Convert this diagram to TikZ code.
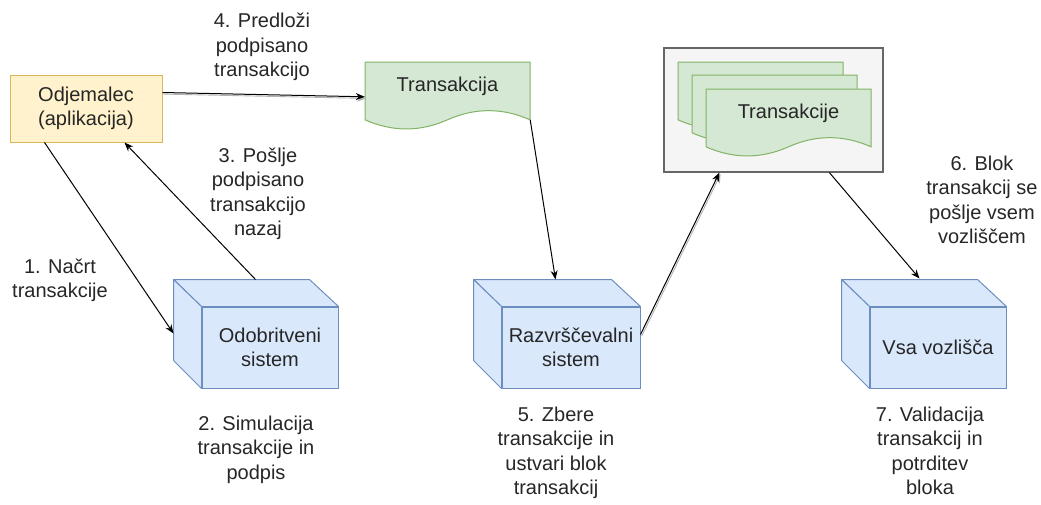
\documentclass[tikz,border=0pt]{standalone}
\usepackage{fontspec}
\setmainfont{Liberation Sans}
\usetikzlibrary{arrows.meta,calc}
\definecolor{ylwF}{HTML}{FFF2CC}\definecolor{ylwD}{HTML}{D6B656}
\definecolor{grnF}{HTML}{D5E8D4}\definecolor{grnD}{HTML}{82B366}
\definecolor{bluF}{HTML}{DAE8FC}\definecolor{bluD}{HTML}{6C8EBF}
\definecolor{gryF}{HTML}{F5F5F5}\definecolor{gryD}{HTML}{666666}
\tikzset{
  every node/.style={font=\fontsize{20}{24.5}\selectfont, text=black!85},
  lbl/.style={align=center, inner sep=0pt},
  client/.style={draw=ylwD, fill=ylwF, line width=1pt, align=center,
    minimum width=152pt, minimum height=67pt, inner sep=0pt},
  docnode/.style={minimum width=165pt, minimum height=48pt, inner sep=0pt},
  face/.style={draw=bluD, fill=bluF, line width=1pt, align=center, inner sep=0pt,
    minimum height=81pt},
  cubeside/.style={draw=bluD, fill=bluF, line width=1pt, line join=round},
  blockbox/.style={draw=gryD, fill=gryF, line width=1.2pt,
    minimum width=219pt, minimum height=124pt, inner sep=0pt},
  conn/.style={line width=1pt, -{Stealth[length=9pt,width=7pt]}},
  ghost/.style={preaction={draw=black!30, line width=0.9pt,
    transform canvas={shift={(1.2pt,-1.6pt)}}}},
  docshape/.pic={
    \path[draw=grnD, fill=grnF, line width=1pt]
      (0,0) -- (165,0) -- (165,57.8)
      .. controls (137.5,45.6) and (110,45.6) .. (82.5,57.8)
      .. controls (55,70) and (27.5,70) .. (0,57.8) -- cycle;
  }
}
\begin{document}
\begin{tikzpicture}[x=1pt,y=-1pt]
\useasboundingbox (0,0) rectangle (1041,504);

% client
\node[client] (odj) at (86,108.5) {Odjemalec\\(aplikacija)};

% single transaction document
\pic at (365,62) {docshape};
\node[docnode] (tx) at (447.5,86) {Transakcija};

% block container with stacked documents
\node[blockbox] (blk) at (773.5,110) {};
\pic at (678,62) {docshape};
\pic at (692,75) {docshape};
\pic at (706,89) {docshape};
\node[docnode] (txs) at (788.5,113) {Transakcije};

% cubes
\node[face, minimum width=136pt] (ob) at (270,347.5) {Odobritveni\\sistem};
\node[face, minimum width=138pt] (rz) at (571,347.5) {Razvrščevalni\\sistem};
\node[face, minimum width=136pt] (vs) at (938,347.5) {Vsa vozlišča};
\foreach \c/\w in {ob/136, rz/138, vs/136}{
  \path[cubeside] (\c.north west) -- ++(-28,-27) -- ++(\w,0) -- (\c.north east) -- cycle;
  \path[cubeside] (\c.north west) -- ++(-28,-27) -- ++(0,81) -- (\c.south west) -- cycle;
}

% connectors
\draw[conn] ($(odj.south west)+(35,0)$) -- ($(ob.south west)+(-28,-55)$);
\draw[conn] ($(ob.north west)+(54,-27)$) -- ($(odj.south west)+(115,0)$);
\draw[conn, ghost] ($(odj.north east)+(0,18)$) -- ($(tx.north west)+(0,35)$);
\draw[conn] ($(tx.north east)+(0,58)$) -- ($(rz.north west)+(54,-27)$);
\draw[conn, ghost] ($(rz.north east)+(0,28)$) -- ($(blk.south west)+(56,0)$);
\draw[conn] ($(blk.south west)+(166,0)$) -- ($(vs.north west)+(50,-28)$);

% labels
\node[lbl] (l4) at (262,47) {4. Predloži\\podpisano\\transakcijo};
\node[lbl] (l3) at (258,194) {3. Pošlje\\podpisano\\transakcijo\\nazaj};
\node[lbl] (l1) at (60,280.5) {1. Načrt\\transakcije};
\node[lbl] (l2) at (256,449.5) {2. Simulacija\\transakcije in\\podpis};
\node[lbl] (l5) at (556,453) {5. Zbere\\transakcije in\\ustvari blok\\transakcij};
\node[lbl] (l6) at (982,200) {6. Blok\\transakcij se\\pošlje vsem\\vozliščem};
\node[lbl] (l7) at (930,451) {7. Validacija\\transakcij in\\potrditev\\bloka};
\end{tikzpicture}
\end{document}
